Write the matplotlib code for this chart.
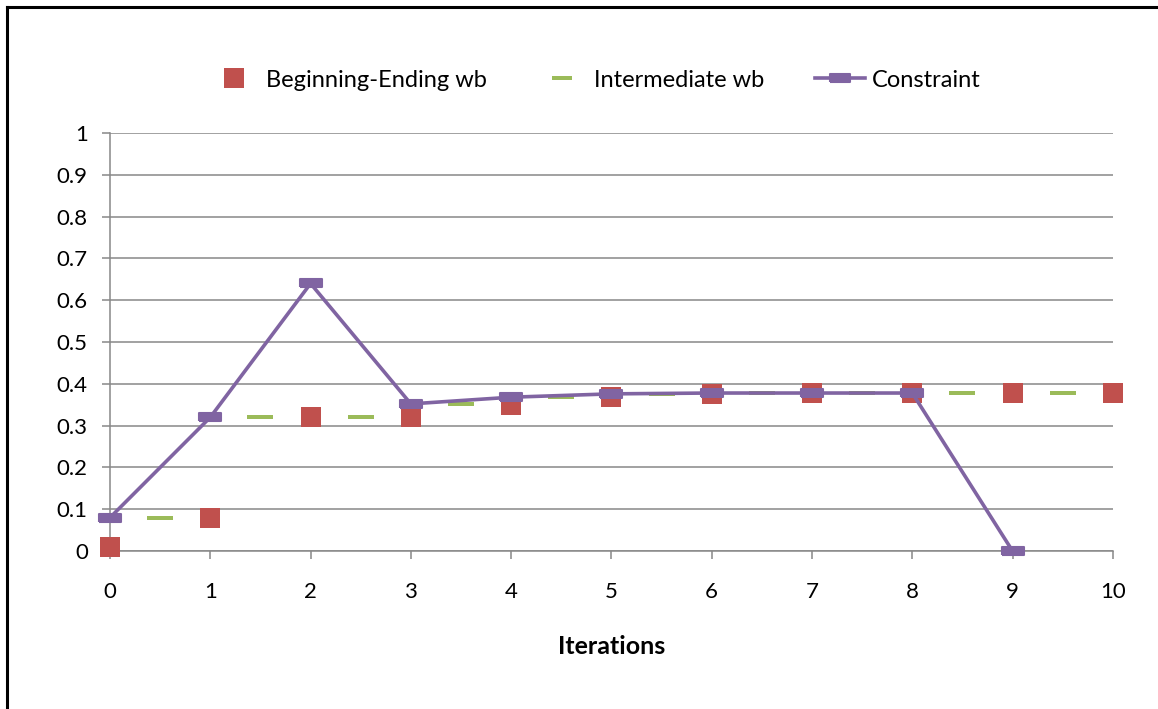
import numpy as np
import matplotlib.pyplot as plt
from matplotlib.lines import Line2D

RED = "#C0504D"
GREEN = "#9BBB59"
PURPLE = "#8064A2"
GRID = "#888888"

plt.rcParams['font.family'] = ['Lato', 'DejaVu Sans']

# data
iterations = [0, 1, 2, 3, 4, 5, 6, 7, 8, 9, 10]
begin_end_wb = [0.01, 0.08, 0.32, 0.32, 0.35, 0.368, 0.376, 0.377, 0.377, 0.377, 0.377]
inter_x = [0.5, 1.5, 2.5, 3.5, 4.5, 5.5, 6.5, 7.5, 8.5, 9.5]
intermediate_wb = [0.08, 0.32, 0.32, 0.352, 0.369, 0.376, 0.378, 0.378, 0.378, 0.378]
constraint_x = [0, 1, 2, 3, 4, 5, 6, 7, 8, 9]
constraint = [0.08, 0.32, 0.64, 0.352, 0.368, 0.376, 0.378, 0.378, 0.378, 0.0]
y_ticks = [0, 0.1, 0.2, 0.3, 0.4, 0.5, 0.6, 0.7, 0.8, 0.9, 1]
y_labels = ["0", "0.1", "0.2", "0.3", "0.4", "0.5", "0.6", "0.7", "0.8", "0.9", "1"]

# wide markers: flat dash and rounded bar
dash = [(-1, -0.18), (1, -0.18), (1, 0.18), (-1, 0.18), (-1, -0.18)]
bar = [(-1, -0.38), (1, -0.38), (1, 0.38), (-1, 0.38), (-1, -0.38)]

fig = plt.figure(figsize=(11.58, 7.09), dpi=100)
ax = fig.add_axes([0.095, 0.2228, 0.866, 0.5896])

ax.plot(iterations, begin_end_wb, linestyle='none', marker='s', markersize=14.5,
        color=RED, markeredgewidth=0, zorder=3, clip_on=False)
ax.plot(inter_x, intermediate_wb, linestyle='none', marker=dash, markersize=19,
        color=GREEN, markeredgewidth=0, zorder=3, clip_on=False)
ax.plot(constraint_x, constraint, color=PURPLE, linewidth=2.6, marker=bar,
        markersize=16, markeredgewidth=1.5, markeredgecolor=PURPLE,
        solid_joinstyle='round', zorder=4, clip_on=False)

ax.set_xlim(0, 10)
ax.set_ylim(0, 1)
ax.set_xticks(iterations)
ax.set_yticks(y_ticks)
ax.set_yticklabels(y_labels)
ax.grid(axis='y', color=GRID, linewidth=1.1)
ax.set_axisbelow(True)
for s in ['top', 'right']:
    ax.spines[s].set_visible(False)
for s in ['left', 'bottom']:
    ax.spines[s].set_color(GRID)
    ax.spines[s].set_linewidth(1.1)
ax.spines['bottom'].set_zorder(2.5)
ax.tick_params(axis='both', colors=GRID, labelcolor='black', labelsize=16,
               length=6, width=1.1)
ax.tick_params(axis='x', pad=16)
ax.tick_params(axis='y', pad=10)
ax.set_xlabel("Iterations", fontsize=18, fontweight='bold', labelpad=24)

handles = [
    Line2D([], [], linestyle='none', marker='s', markersize=14, color=RED, markeredgewidth=0),
    Line2D([], [], linestyle='none', marker=dash, markersize=14, color=GREEN, markeredgewidth=0),
    Line2D([], [], color=PURPLE, linewidth=2.6, marker=bar, markersize=14,
           markeredgewidth=1.5, markeredgecolor=PURPLE),
]
fig.legend(handles, ["Beginning-Ending wb", "Intermediate wb", "Constraint"],
           loc='center', bbox_to_anchor=(0.5135, 0.887), ncol=3, frameon=False,
           fontsize=17, columnspacing=2.15, handlelength=2.1, handletextpad=0.3)

# frame of the original picture (left and top edges)
fig.add_artist(Line2D([0.006, 1.0], [0.990, 0.990], color='black', linewidth=2.2))
fig.add_artist(Line2D([0.006, 0.006], [0.0, 0.990], color='black', linewidth=2.2))

plt.savefig("out.png", dpi=100)
